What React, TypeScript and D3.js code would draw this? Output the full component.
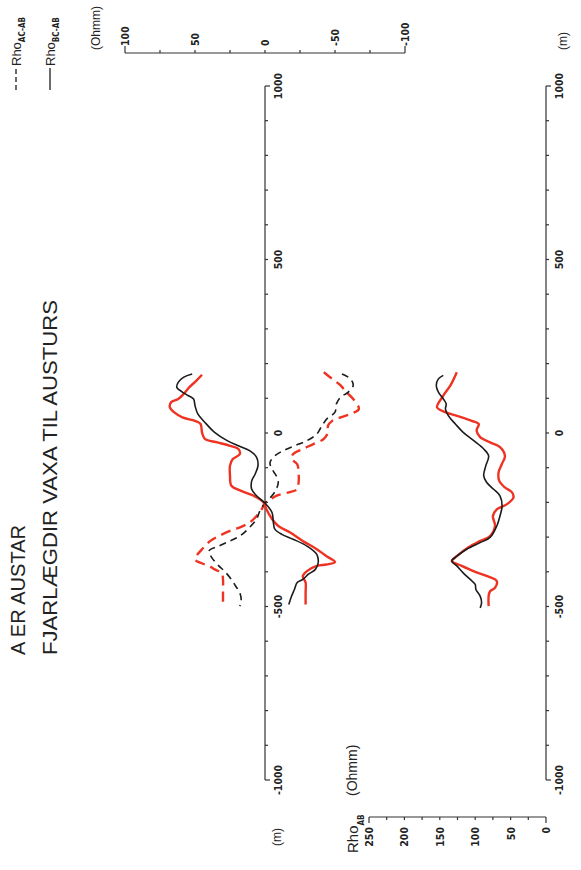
import React from "react";
import * as d3 from "d3";

// ---------- data ----------
const titleLine1 = "A ER AUSTAR";
const titleLine2 = "FJARLÆGDIR VAXA TIL AUSTURS";
const posTicks = d3.range(-1000, 1001, 100);
const posLabels = [-1000, -500, 0, 500, 1000];
const upperValTicks = d3.range(-100, 101, 25);
const upperValLabels = [100, 50, 0, -50, -100];
const lowerValTicks = d3.range(0, 251, 25);
const lowerValLabels = [250, 200, 150, 100, 50, 0];

// upper panel: Rho BC-AB (solid), Rho AC-AB (dashed); black and red runs
const upBlackSolidPos = [170,161,146,132,118,108,98,79,55,31,2,-22,-37,-51,-70,-94,-118,-138,-162,-181,-202,-229,-258,-277,-292,-306,-326,-350,-374,-393,-407,-422,-431,-451,-470,-494];
const upBlackSolidVal = [52,58,62,63,59,55,51,50,48,43,36,27,19,11,6,5,7,9.5,9.5,6,0,-5,-6,-7,-12,-20,-30,-37,-38,-36,-31,-27,-23,-21,-19,-17];

const upRedSolidPos = [168,151,132,113,98,89,74,60,45,35,26,2,-17,-27,-37,-46,-61,-75,-94,-123,-152,-167,-181,-200,-220,-248,-268,-287,-311,-335,-355,-372,-379,-383,-398,-412,-431,-460,-494];
const upRedSolidVal = [45,49,54,58,62,67,68,65,59,50,46,45,43,34,25,19,18,23,25,25,24,17,8,1,-1,-5,-9.5,-18,-27,-37,-44,-50,-44,-37,-30,-27,-29,-29,-29];

const upBlackDashPos = [170,156,137,118,103,84,60,40,16,-3,-22,-37,-51,-66,-85,-104,-123,-142,-162,-181,-202,-224,-248,-272,-297,-311,-326,-340,-359,-383,-398,-422,-441,-460,-485,-499];
const upBlackDashVal = [-55,-61,-63,-59.5,-54,-51,-50,-44,-40,-37,-30,-21,-13,-7,-3.6,-5,-8,-9.5,-8,-5,0,3.6,6,11,18,25,33,40,38,33,29,24,21,18,17,18];

const upRedDashPos = [175,156,137,118,98,69,55,45,35,21,2,-17,-32,-46,-61,-75,-90,-114,-142,-162,-171,-181,-196,-202,-220,-239,-258,-272,-282,-297,-311,-335,-364,-374,-383,-393,-403,-422,-451,-494];
const upRedDashVal = [-42,-48,-54,-58,-63,-67,-61,-54,-48,-45,-45,-42,-34.5,-27,-20,-19,-23,-24,-24,-23,-17,-8,-2.4,0,2.4,6,11,18,25,33,39,45,50,46,40,36,31,30,30,30];

// lower panel: Rho AB
const lowBlackPos = [166,156,137,118,98,84,69,50,26,2,-22,-46,-66,-94,-123,-142,-162,-181,-210,-239,-268,-301,-316,-335,-355,-369,-383,-403,-422,-436,-451,-470,-489,-504];
const lowBlackVal = [145,152,155,152,145,141,142,138,128,117,102,88,81,85,88,84,74,65,62,65,69.5,79,93,112,126,133,126,117,107,100,99,93,91,93];

const lowRedPos = [175,137,108,74,64,55,45,35,26,7,-12,-27,-41,-66,-90,-114,-138,-157,-171,-186,-205,-220,-239,-268,-297,-311,-330,-355,-369,-383,-398,-412,-427,-446,-456,-470,-499];
const lowRedVal = [126,135,145,154,147,135,119,105,95,98,93,79,65,58,62.5,67,66,58,48,46,55,69.5,75,72,79,93,110,126,133,119,102.5,84,69.5,72,79,81,81];

// ---------- styling ----------
const W = 581, H = 870;
const RED = "#ee3322";
const BLACK = "#1c1c1c";
const AXIS = "#333";
const tickFont = "'DejaVu Sans Condensed','DejaVu Sans',sans-serif";
const textFont = "'Liberation Sans','DejaVu Sans',sans-serif";

const posY = d3.scaleLinear().domain([-1000, 1000]).range([780, 86]);
const upX = d3.scaleLinear().domain([100, -100]).range([125, 405]);
const lowX = d3.scaleLinear().domain([250, 0]).range([369, 546]);

function makePath(xs: d3.ScaleLinear<number, number>, pos: number[], val: number[]) {
  const pts = pos.map((p, i) => [val[i], p] as [number, number]);
  return d3.line<[number, number]>()
    .x(d => xs(d[0]))
    .y(d => posY(d[1]))
    .curve(d3.curveCatmullRom.alpha(0.5))(pts) || "";
}

function RText({ x, y, anchor = "middle", size = 10, weight = 400, family = tickFont, children, textLength }: any) {
  return (
    <text transform={`translate(${x},${y}) rotate(-90)`} textAnchor={anchor} dominantBaseline="central"
      fontSize={size} fontWeight={weight} fontFamily={family} fill="#222"
      textLength={textLength} lengthAdjust={textLength ? "spacingAndGlyphs" : undefined}>
      {children}
    </text>
  );
}

function PosAxis({ x0 }: { x0: number }) {
  return (
    <g>
      <line x1={x0} x2={x0} y1={posY(-1000)} y2={posY(1000)} stroke={AXIS} strokeWidth={1.2} />
      {posTicks.map(t => (
        <line key={t} x1={x0} x2={x0 + (Math.abs(t) === 1000 ? 5 : 3)} y1={posY(t)} y2={posY(t)} stroke={AXIS} strokeWidth={1.2} />
      ))}
      {posLabels.map(t => (
        <RText key={t} x={x0 + 13} y={posY(t)} size={10.5} weight={700}>{t}</RText>
      ))}
    </g>
  );
}

export default function App() {
  const upY = 53;
  const lowY = 817;
  return (
    <svg width={W} height={H} style={{ position: "absolute", left: 0, top: 0, background: "#fff" }}>
      <rect width={W} height={H} fill="#fff" />
      {/* titles */}
      <RText x={18} y={655} anchor="start" size={20} family={textFont} textLength={130}>{titleLine1}</RText>
      <RText x={50} y={655} anchor="start" size={20} family={textFont} textLength={355}>{titleLine2}</RText>

      {/* legend */}
      <line x1={16} x2={16} y1={90} y2={68} stroke={BLACK} strokeWidth={1.3} strokeDasharray="5,3" />
      <text transform={`translate(16,66) rotate(-90)`} dominantBaseline="central" fontFamily={textFont} fontSize={13} fill="#222">
        Rho<tspan dy={6} fontSize={8} fontWeight={700} fontFamily={tickFont}>AC-AB</tspan>
      </text>
      <line x1={50} x2={50} y1={90} y2={68} stroke={BLACK} strokeWidth={1.3} />
      <text transform={`translate(50,66) rotate(-90)`} dominantBaseline="central" fontFamily={textFont} fontSize={13} fill="#222">
        Rho<tspan dy={6} fontSize={8} fontWeight={700} fontFamily={tickFont}>BC-AB</tspan>
      </text>
      <RText x={96} y={50} anchor="start" size={12} family={textFont}>(Ohmm)</RText>

      {/* upper value axis */}
      <g>
        <line x1={upX(100)} x2={upX(-100)} y1={upY} y2={upY} stroke={AXIS} strokeWidth={1.2} />
        {upperValTicks.map(t => (
          <line key={t} x1={upX(t)} x2={upX(t)} y1={upY} y2={upY - (Math.abs(t) === 100 ? 7 : 3)} stroke={AXIS} strokeWidth={1.2} />
        ))}
        {upperValLabels.map(t => (
          <RText key={t} x={upX(t)} y={46} anchor="start" size={10.5} weight={700}>{t}</RText>
        ))}
      </g>

      {/* upper position axis */}
      <PosAxis x0={upX(0)} />
      <RText x={277} y={837} size={12} family={textFont}>(m)</RText>

      {/* upper curves */}
      <path d={makePath(upX, upRedDashPos, upRedDashVal)} fill="none" stroke={RED} strokeWidth={2.4} strokeDasharray="10,6" />
      <path d={makePath(upX, upBlackDashPos, upBlackDashVal)} fill="none" stroke={BLACK} strokeWidth={1.6} strokeDasharray="7,5" />
      <path d={makePath(upX, upRedSolidPos, upRedSolidVal)} fill="none" stroke={RED} strokeWidth={2.4} />
      <path d={makePath(upX, upBlackSolidPos, upBlackSolidVal)} fill="none" stroke={BLACK} strokeWidth={1.6} />

      {/* lower panel */}
      <PosAxis x0={lowX(0)} />
      <RText x={563} y={41} size={12} family={textFont}>(m)</RText>
      <g>
        <line x1={lowX(250)} x2={lowX(0)} y1={lowY} y2={lowY} stroke={AXIS} strokeWidth={1.2} />
        {lowerValTicks.map(t => (
          <line key={t} x1={lowX(t)} x2={lowX(t)} y1={lowY} y2={lowY + (t === 0 || t === 250 ? 6 : 3)} stroke={AXIS} strokeWidth={1.2} />
        ))}
        {lowerValLabels.map(t => (
          <RText key={t} x={lowX(t)} y={827} anchor="end" size={10.5} weight={700}>{t}</RText>
        ))}
      </g>
      <text transform={`translate(352,853) rotate(-90)`} dominantBaseline="central" fontFamily={textFont} fontSize={15} fill="#222">
        Rho<tspan dy={9} fontSize={8} fontWeight={700} fontFamily={tickFont}>AB</tspan>
      </text>
      <RText x={352} y={796} anchor="start" size={14} family={textFont}>(Ohmm)</RText>

      <path d={makePath(lowX, lowRedPos, lowRedVal)} fill="none" stroke={RED} strokeWidth={2.4} />
      <path d={makePath(lowX, lowBlackPos, lowBlackVal)} fill="none" stroke={BLACK} strokeWidth={1.6} />
    </svg>
  );
}
